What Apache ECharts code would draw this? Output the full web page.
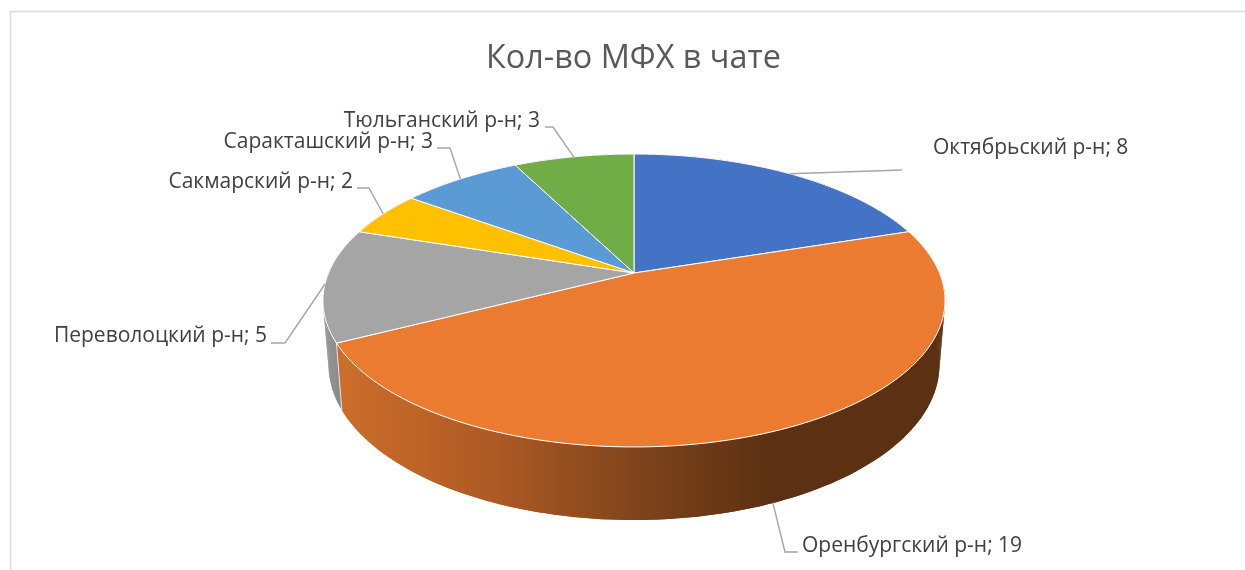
<!DOCTYPE html>
<html lang="ru">
<head>
    <meta charset="UTF-8">
    <title>Кол-во МФХ в чате</title>
    <script src="https://cdn.jsdelivr.net/npm/echarts@6/dist/echarts.min.js"></script>
</head>
<style>
    html, body {
        margin: 0;
        background-color: #FFFFFF;
    }
</style>
<body>
<div id="main" style="width: 1245px;height: 570px;"></div>
<script>
    var titleText = 'Кол-во МФХ в чате';
    var categories = ['Октябрьский р-н', 'Оренбургский р-н', 'Переволоцкий р-н', 'Сакмарский р-н', 'Саракташский р-н', 'Тюльганский р-н'];
    var values = [8, 19, 5, 2, 3, 3];
    var topColors = ['#4472C4', '#EB7B30', '#A5A5A5', '#FFC000', '#5B9BD5', '#70AD47'];

    // perspective of the pie: top face and bottom rim, same horizon
    var tilt = 0.1877;
    var topRim = {cx: 634, cy: 273, a: 305.5, b: 141.3};
    var bottomRim = {cx: 634, cy: 335.7, a: 300, b: 149.7};

    // label end point, text align, text y, elbow of the leader (may be one or two points)
    var labelLayout = [
        {x: 933, y: 148, align: 'left', leader: [[902, 170]]},
        {x: 802, y: 546, align: 'left', leader: [[785, 552], [798, 552]]},
        {x: 267, y: 336, align: 'right', leader: [[285, 343], [271, 343]]},
        {x: 353, y: 182, align: 'right', leader: [[369, 188], [357, 188]]},
        {x: 433, y: 142, align: 'right', leader: [[450, 148], [437, 148]]},
        {x: 540, y: 121, align: 'right', leader: [[553, 127], [545, 127]]}
    ];

    var total = values.reduce(function (s, v) { return s + v; }, 0);

    function rimPoint(rim, deg) {
        var t = deg * Math.PI / 180;
        var w = 1 + tilt * Math.cos(t);
        return [rim.cx + rim.a * Math.sin(t) / w, rim.cy - rim.b * Math.cos(t) / w];
    }

    function sliceAngles(i) {
        var before = 0;
        for (var k = 0; k < i; k++) {
            before += values[k];
        }
        return [before / total * 360, (before + values[i]) / total * 360];
    }

    function arcPoints(rim, from, to) {
        var pts = [];
        var n = Math.max(2, Math.ceil((to - from) / 1.5));
        for (var j = 0; j <= n; j++) {
            pts.push(rimPoint(rim, from + (to - from) * j / n));
        }
        return pts;
    }

    function wallFill(i) {
        if (i === 1) {
            return new echarts.graphic.LinearGradient(343, 0, 770, 0, [
                {offset: 0, color: '#CC6D2B'},
                {offset: 0.35, color: '#AE5A24'},
                {offset: 0.7, color: '#7E431B'},
                {offset: 1, color: '#5C3012'}
            ], true);
        }
        if (i === 2) {
            return new echarts.graphic.LinearGradient(322, 0, 345, 0, [
                {offset: 0, color: '#9A9A9A'},
                {offset: 1, color: '#858585'}
            ], true);
        }
        return '#777777';
    }

    function renderWall(params, api) {
        var i = api.value(0);
        var ang = sliceAngles(i);
        var upper = arcPoints(topRim, ang[0], ang[1]);
        var lower = arcPoints(bottomRim, ang[0], ang[1]);
        var fill = wallFill(i);
        var children = [
            {type: 'polygon', shape: {points: upper.concat(lower.slice().reverse())}, style: {fill: fill}}
        ];
        // small quads as well, they fill out the straight side edges of the drum
        for (var j = 0; j < upper.length - 1; j++) {
            children.push({
                type: 'polygon',
                shape: {points: [upper[j], upper[j + 1], lower[j + 1], lower[j]]},
                style: {fill: fill}
            });
        }
        children.push({
            type: 'line',
            shape: {x1: upper[0][0], y1: upper[0][1], x2: lower[0][0], y2: lower[0][1]},
            style: {stroke: '#E6E6E6', lineWidth: 1}
        });
        return {type: 'group', children: children};
    }

    function renderTop(params, api) {
        var i = api.value(0);
        var ang = sliceAngles(i);
        var pts = [[topRim.cx, topRim.cy]].concat(arcPoints(topRim, ang[0], ang[1]));
        return {
            type: 'polygon',
            shape: {points: pts},
            style: {fill: topColors[i], stroke: '#FFFFFF', lineWidth: 1, lineJoin: 'round'}
        };
    }

    function renderLabel(params, api) {
        var i = api.value(0);
        var ang = sliceAngles(i);
        var mid = (ang[0] + ang[1]) / 2;
        var lay = labelLayout[i];
        // front slices hang the leader from the lower rim
        var start = rimPoint(i === 1 ? bottomRim : topRim, mid);
        return {
            type: 'group',
            children: [
                {
                    type: 'polyline',
                    shape: {points: [start].concat(lay.leader)},
                    style: {fill: null, stroke: '#A6A6A6', lineWidth: 1.4}
                },
                {
                    type: 'text',
                    x: lay.x,
                    y: lay.y,
                    style: {
                        text: categories[i] + '; ' + api.value(1),
                        fill: '#404040',
                        font: '21px "Open Sans"',
                        align: lay.align,
                        verticalAlign: 'middle'
                    }
                }
            ]
        };
    }

    var seriesData = values.map(function (v, i) { return [i, v]; });

    var myChart = echarts.init(document.getElementById('main'));
    var option = {
        animation: false,
        backgroundColor: '#FFFFFF',
        title: {
            text: titleText,
            left: 481,
            top: 38,
            textStyle: {
                color: '#595959',
                fontFamily: 'Open Sans',
                fontWeight: 'normal',
                fontSize: 32.4
            }
        },
        graphic: [
            {type: 'polyline', shape: {points: [[10.5, 570], [10.5, 11.5], [1245, 11.5]]}, style: {fill: null, stroke: '#D9D9D9', lineWidth: 1.5}}
        ],
        series: [
            {type: 'custom', coordinateSystem: 'none', z: 1, renderItem: renderWall, data: seriesData},
            {type: 'custom', coordinateSystem: 'none', z: 2, renderItem: renderTop, data: seriesData},
            {type: 'custom', coordinateSystem: 'none', z: 3, renderItem: renderLabel, data: seriesData}
        ]
    };
    myChart.setOption(option);
</script>
</body>
</html>
